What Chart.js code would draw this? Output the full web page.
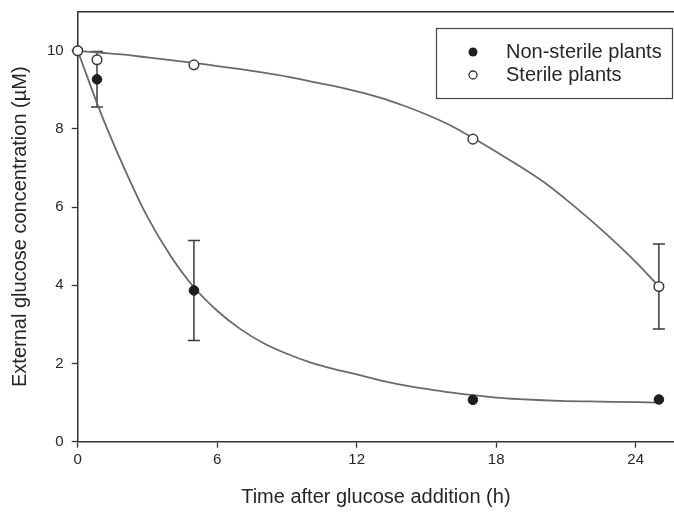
<!DOCTYPE html>
<html>
<head>
<meta charset="utf-8">
<script src="https://cdn.jsdelivr.net/npm/chart.js@4"></script>
<style>
  html, body { margin: 0; padding: 0; background: #ffffff; }
  #wrap { width: 674px; height: 513px; }
</style>
</head>
<body>
<div id="wrap"><canvas id="glucoseChart" width="674" height="513"></canvas></div>
<script>
// Measured points (h, µM) with error bars
const timeHours = [0, 0.83, 5, 17, 25];
const nonSterile = [10, 9.27, 3.87, 1.07, 1.08];
const nonSterileErr = [0, 0.71, 1.28, 0, 0];
const sterile = [10, 9.77, 9.64, 7.74, 3.97];
const sterileErr = [0, 0, 0, 0, 1.09];

// Fitted curves
const fitHours = [0, 1, 2, 3, 4, 5, 6, 7, 8, 9, 10, 11, 12, 13, 14, 15, 16, 17, 18, 19, 20, 21, 22, 23, 24, 25];
const nonSterileFit = [10, 8.4, 7.0, 5.75, 4.75, 3.95, 3.35, 2.88, 2.52, 2.25, 2.03, 1.86, 1.72, 1.57, 1.45, 1.35, 1.26, 1.19, 1.13, 1.09, 1.06, 1.04, 1.03, 1.02, 1.01, 1.0];
const sterileFit = [10, 9.95, 9.9, 9.83, 9.76, 9.69, 9.61, 9.53, 9.44, 9.34, 9.22, 9.1, 8.96, 8.8, 8.6, 8.37, 8.1, 7.77, 7.42, 7.05, 6.66, 6.2, 5.7, 5.17, 4.6, 3.97];

const xTicks = [0, 6, 12, 18, 24];
const yTicks = [0, 2, 4, 6, 8, 10];

const legendLabels = ['Non-sterile plants', 'Sterile plants'];

const FONT = "'Liberation Sans', Arial, sans-serif";
const INK = '#262626';

function toPoints(xs, ys) {
    return xs.map((x, i) => ({ x: x, y: ys[i] }));
}

// Error bars drawn under the markers
const errorBars = {
    id: 'errorBars',
    beforeDatasetsDraw(chart) {
        const ctx = chart.ctx;
        const xs = chart.scales.x;
        const ys = chart.scales.y;
        const sets = [[nonSterile, nonSterileErr], [sterile, sterileErr]];
        ctx.save();
        ctx.strokeStyle = '#3a3a3a';
        ctx.lineWidth = 1.5;
        sets.forEach(([vals, errs]) => {
            vals.forEach((v, i) => {
                if (!errs[i]) return;
                const px = xs.getPixelForValue(timeHours[i]);
                const top = ys.getPixelForValue(v + errs[i]);
                const bot = ys.getPixelForValue(v - errs[i]);
                ctx.beginPath();
                ctx.moveTo(px, top); ctx.lineTo(px, bot);
                ctx.moveTo(px - 6, top); ctx.lineTo(px + 6, top);
                ctx.moveTo(px - 6, bot); ctx.lineTo(px + 6, bot);
                ctx.stroke();
            });
        });
        ctx.restore();
    }
};

// Top frame line and the boxed legend
const frameAndLegend = {
    id: 'frameAndLegend',
    afterDraw(chart) {
        const ctx = chart.ctx;
        const area = chart.chartArea;
        ctx.save();
        ctx.strokeStyle = '#333333';
        ctx.lineWidth = 1.5;
        ctx.beginPath();
        ctx.moveTo(area.left, area.top);
        ctx.lineTo(area.right, area.top);
        ctx.stroke();

        // legend box
        ctx.lineWidth = 1.2;
        ctx.strokeStyle = '#444444';
        ctx.strokeRect(436.5, 28.5, 236, 70);

        ctx.beginPath();
        ctx.arc(473, 52, 4.5, 0, Math.PI * 2);
        ctx.fillStyle = '#1e1e1e';
        ctx.fill();

        ctx.beginPath();
        ctx.arc(473, 75, 4, 0, Math.PI * 2);
        ctx.fillStyle = '#ffffff';
        ctx.fill();
        ctx.lineWidth = 1.3;
        ctx.strokeStyle = '#333333';
        ctx.stroke();

        ctx.fillStyle = INK;
        ctx.font = '20px ' + FONT;
        ctx.textBaseline = 'middle';
        ctx.textAlign = 'left';
        ctx.fillText(legendLabels[0], 506, 52);
        ctx.fillText(legendLabels[1], 506, 75);
        ctx.restore();
    }
};

const chart = new Chart(document.getElementById('glucoseChart'), {
    type: 'line',
    data: {
        datasets: [
            {
                label: legendLabels[0],
                data: toPoints(timeHours, nonSterile),
                showLine: false,
                pointRadius: 4.8,
                pointBackgroundColor: '#1e1e1e',
                pointBorderColor: '#1e1e1e',
                pointBorderWidth: 1,
                order: 1
            },
            {
                label: legendLabels[1],
                data: toPoints(timeHours, sterile),
                showLine: false,
                pointRadius: 4.8,
                pointBackgroundColor: '#ffffff',
                pointBorderColor: '#3a3a3a',
                pointBorderWidth: 1.5,
                order: 0
            },
            {
                label: 'Non-sterile fit',
                data: toPoints(fitHours, nonSterileFit),
                borderColor: '#6a6a6a',
                borderWidth: 1.8,
                pointRadius: 0,
                cubicInterpolationMode: 'monotone',
                fill: false,
                order: 2
            },
            {
                label: 'Sterile fit',
                data: toPoints(fitHours, sterileFit),
                borderColor: '#6a6a6a',
                borderWidth: 1.8,
                pointRadius: 0,
                cubicInterpolationMode: 'monotone',
                fill: false,
                order: 2
            }
        ]
    },
    options: {
        responsive: false,
        animation: false,
        clip: false,
        layout: {
            autoPadding: false,
            padding: { top: 11.7, right: 0, left: 0, bottom: 0 }
        },
        scales: {
            x: {
                type: 'linear',
                min: 0,
                max: 25.65,
                afterFit: (scale) => {
                    scale.height = 71.3;
                    scale.paddingLeft = 0;
                    scale.paddingRight = 0;
                },
                afterBuildTicks: (scale) => { scale.ticks = xTicks.map(v => ({ value: v })); },
                grid: {
                    drawOnChartArea: false,
                    drawTicks: true,
                    tickLength: 6,
                    tickColor: '#333333',
                    tickWidth: 1.3
                },
                border: { display: true, color: '#333333', width: 1.5 },
                ticks: {
                    color: INK,
                    padding: 3,
                    font: { family: FONT, size: 15 }
                },
                title: {
                    display: true,
                    text: 'Time after glucose addition (h)',
                    color: INK,
                    font: { family: FONT, size: 20 },
                    padding: { top: 0, bottom: 4 }
                }
            },
            y: {
                type: 'linear',
                min: 0,
                max: 11,
                afterFit: (scale) => {
                    scale.width = 77.7;
                    scale.paddingTop = 0;
                    scale.paddingBottom = 0;
                },
                afterBuildTicks: (scale) => { scale.ticks = yTicks.map(v => ({ value: v })); },
                grid: {
                    drawOnChartArea: false,
                    drawTicks: true,
                    tickLength: 6,
                    tickColor: '#333333',
                    tickWidth: 1.3
                },
                border: { display: true, color: '#333333', width: 1.5 },
                ticks: {
                    color: INK,
                    padding: 8,
                    font: { family: FONT, size: 15 }
                },
                title: {
                    display: true,
                    text: 'External glucose concentration (µM)',
                    color: INK,
                    font: { family: FONT, size: 20 },
                    padding: { top: 8, bottom: 0 }
                }
            }
        },
        plugins: {
            legend: { display: false },
            tooltip: { enabled: false }
        }
    },
    plugins: [errorBars, frameAndLegend]
});
</script>
</body>
</html>
